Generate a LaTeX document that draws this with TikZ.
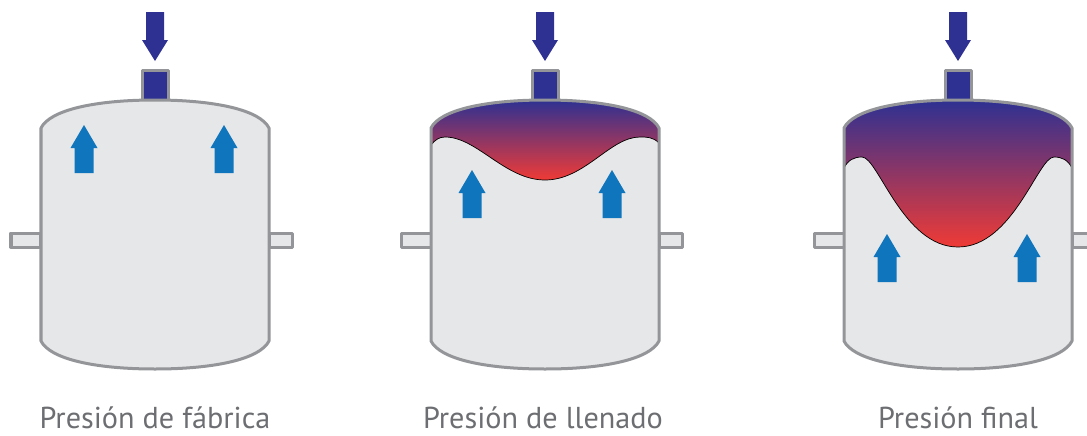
\documentclass[tikz,border=0pt]{standalone}
\usepackage{fontspec}
\setmainfont{PT Sans}
\usetikzlibrary{positioning}

\definecolor{tankgrey}{HTML}{939598}
\definecolor{tankfill}{HTML}{E6E7E8}
\definecolor{navy}{HTML}{2E3192}
\definecolor{upblue}{HTML}{0F75BC}
\definecolor{gasred}{HTML}{EF3B36}
\definecolor{gasmid}{HTML}{BA385E}
\definecolor{labelgrey}{HTML}{6D6E71}

\begin{document}
\begin{tikzpicture}[x=0.025cm, y=-0.025cm,
    wall/.style={draw=tankgrey, line width=0.075cm, line join=round},
    gas/.style={top color=navy, middle color=gasmid, bottom color=gasred},
    membrane/.style={draw=black, line width=0.5pt},
    caption/.style={anchor=base, text=labelgrey, font=\fontsize{21.5}{26}\selectfont},
    uparrow/.pic={\fill[upblue] (-9.5,0) -- (-9.5,-25) -- (-13.5,-25) -- (0,-48) -- (13.5,-25) -- (9.5,-25) -- (9.5,0) -- cycle;},
    downarrow/.pic={\fill[navy] (-9,-49) -- (-9,-21) -- (-13,-21) -- (0,0) -- (13,-21) -- (9,-21) -- (9,-49) -- cycle;}]
    \useasboundingbox (0,0) rectangle (1087,435);

    % vessel body, side connections, top valve and inflow arrow
    \foreach \cx in {155,545,958} {
        \draw[wall, fill=tankfill] (\cx-144,233) rectangle (\cx-114,247);
        \draw[wall, fill=tankfill] (\cx+114,233) rectangle (\cx+137,247);
        \draw[wall, fill=navy] (\cx-13,70) rectangle (\cx+13,100);
        \fill[tankfill] (\cx-114,128) .. controls (\cx-105,110) and (\cx-60,100) .. (\cx,100)
            .. controls (\cx+60,100) and (\cx+105,110) .. (\cx+114,128) -- (\cx+114,341)
            .. controls (\cx+105,359) and (\cx+60,369) .. (\cx,369)
            .. controls (\cx-60,369) and (\cx-105,359) .. (\cx-114,341) -- cycle;
        \pic at (\cx,61) {downarrow};
    }

    % gas cushion after filling
    \def\cx{545}
    \shade[gas] (\cx-114,128) .. controls (\cx-105,110) and (\cx-60,100) .. (\cx,100)
        .. controls (\cx+60,100) and (\cx+105,110) .. (\cx+114,128) -- (\cx+114,143)
        .. controls (\cx+108,137) and (\cx+102,137) .. (\cx+95,137)
        .. controls (\cx+65,137) and (\cx+40,180) .. (\cx,180)
        .. controls (\cx-40,180) and (\cx-68,137) .. (\cx-100,137)
        .. controls (\cx-106,137) and (\cx-110,140) .. (\cx-114,145) -- cycle;
    \draw[membrane] (\cx+114,143)
        .. controls (\cx+108,137) and (\cx+102,137) .. (\cx+95,137)
        .. controls (\cx+65,137) and (\cx+40,180) .. (\cx,180)
        .. controls (\cx-40,180) and (\cx-68,137) .. (\cx-100,137)
        .. controls (\cx-106,137) and (\cx-110,140) .. (\cx-114,145);

    % gas cushion at final pressure
    \def\cx{958}
    \shade[gas] (\cx-114,128) .. controls (\cx-105,110) and (\cx-60,100) .. (\cx,100)
        .. controls (\cx+60,100) and (\cx+105,110) .. (\cx+114,128) -- (\cx+114,168)
        .. controls (\cx+110,160) and (\cx+104,157) .. (\cx+96,157)
        .. controls (\cx+80,157) and (\cx+55,247) .. (\cx,247)
        .. controls (\cx-55,247) and (\cx-80,157) .. (\cx-96,157)
        .. controls (\cx-104,157) and (\cx-110,160) .. (\cx-114,168) -- cycle;
    \draw[membrane] (\cx+114,168)
        .. controls (\cx+110,160) and (\cx+104,157) .. (\cx+96,157)
        .. controls (\cx+80,157) and (\cx+55,247) .. (\cx,247)
        .. controls (\cx-55,247) and (\cx-80,157) .. (\cx-96,157)
        .. controls (\cx-104,157) and (\cx-110,160) .. (\cx-114,168);

    % vessel outlines
    \foreach \cx in {155,545,958} {
        \draw[wall] (\cx-114,128) .. controls (\cx-105,110) and (\cx-60,100) .. (\cx,100)
            .. controls (\cx+60,100) and (\cx+105,110) .. (\cx+114,128) -- (\cx+114,341)
            .. controls (\cx+105,359) and (\cx+60,369) .. (\cx,369)
            .. controls (\cx-60,369) and (\cx-105,359) .. (\cx-114,341) -- cycle;
    }

    % pressure arrows
    \pic at (84,173) {uparrow};
    \pic at (224,173) {uparrow};
    \pic at (472,218) {uparrow};
    \pic at (612,218) {uparrow};
    \pic at (887,282) {uparrow};
    \pic at (1027,282) {uparrow};

    \node[caption] (factory) at (155,428) {Presión de fábrica};
    \node[caption] (filling) at (543,428) {Presión de llenado};
    \node[caption] (final) at (958,428) {Presión final};
\end{tikzpicture}
\end{document}
